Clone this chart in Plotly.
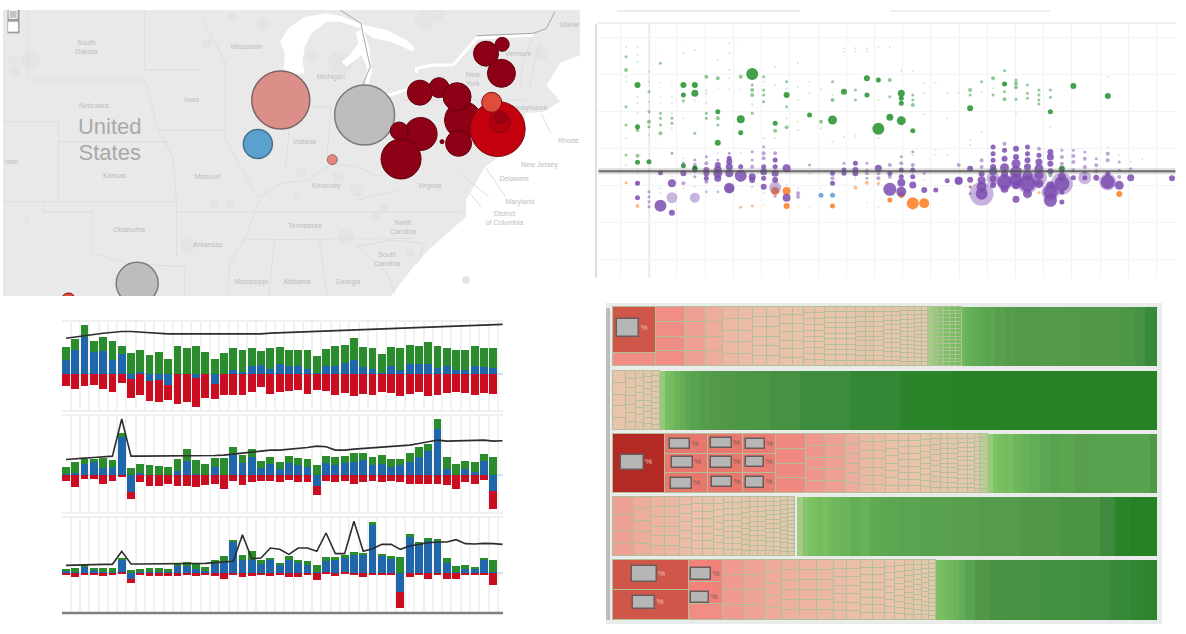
import plotly.graph_objects as go

W, H = 1186, 634

# ---- map panel, positions
land_x = [8, 1543, 1543, 1490, 1454, 1490, 1445, 1397, 1397, 1348, 1290, 1240, 1240, 1190, 1140, 1100, 1040, 8]
land_y = [30, 30, 165, 190, 255, 305, 335, 340, 415, 455, 500, 600, 650, 700, 750, 800, 888, 888]
lake_arc_x = [745, 767, 811, 869, 913, 967, 1029, 1082, 1104, 1095, 1073, 1038, 993, 958, 905, 869, 829, 811, 805, 811, 771, 754, 758]
lake_arc_y = [125, 85, 50, 40, 50, 75, 90, 120, 145, 155, 140, 125, 115, 85, 65, 65, 100, 140, 185, 220, 225, 205, 160]
huron_x = [947, 967, 983, 989, 980, 971, 977, 962, 922, 909, 931, 953]
huron_y = [95, 87, 145, 215, 255, 250, 205, 165, 200, 185, 165, 130]
erie_x = [985, 1038, 1090, 1090, 1038, 995]
erie_y = [275, 280, 260, 270, 290, 290]
lawrence_x = [1108, 1108, 1153, 1206, 1268, 1419]
lawrence_y = [220, 205, 195, 195, 115, 105]
border_dark_x = [905, 960, 975, 985, 965, None, 1268, 1419, 1454, 1476]
border_dark_y = [30, 70, 150, 200, 255, None, 107, 100, 85, 35]
box_x = [20, 52, 52, 20]
box_y = [30, 30, 100, 100]
state_lines = [
    ([75, 75], [30, 240]), ([385, 385], [30, 210]), ([75, 385, 400, 420, 460, 470, 470], [240, 240, 300, 390, 470, 610, 770]),
    ([385, 540], [210, 210]), ([540, 600, 600, 600, 640, 690, 650, 610, 605], [60, 190, 300, 415, 500, 600, 720, 790, 888]),
    ([420, 600], [390, 390]), ([8, 155, 155], [365, 365, 605]), ([155, 450], [425, 425]), ([8, 470], [605, 605]),
    ([115, 115, 245, 245, 345, 490, 490], [605, 635, 635, 760, 790, 800, 888]), ([470, 1230], [635, 635]),
    ([640, 1100], [720, 715]), ([730, 715], [720, 888]), ([850, 870], [720, 888]), ([770, 760], [385, 500]),
    ([880, 870], [320, 470]), ([680, 880], [320, 320]), ([690, 750, 820, 885, 950, 1010], [590, 550, 540, 490, 500, 530]),
    ([950, 1060], [600, 570]), ([950, 1040, 1130, 1110], [740, 720, 730, 790]), ([950, 1030, 1050], [740, 820, 880]),
    ([1070, 1400], [300, 300]), ([1383, 1393, 1419], [255, 175, 115]), ([1440, 1420, 1410], [125, 200, 255]),
    ([1290, 1345], [500, 590]), ([1225, 1300], [520, 590]), ([1440, 1465], [340, 400]), ([1250, 1280], [580, 620]),
]
patch_x = [80, 35, 40, 700, 620, 905, 1130, 900, 800, 950, 570, 610, 500, 1000, 920, 1020, 550, 830, 1440, 1160, 1240, 70, 660, 1090, 790]
patch_y = [180, 180, 215, 70, 50, 190, 60, 530, 520, 570, 610, 612, 735, 650, 710, 625, 130, 170, 160, 40, 840, 660, 430, 760, 590]
patch_d = [20, 10, 12, 14, 10, 24, 20, 12, 10, 14, 8, 9, 16, 10, 16, 10, 10, 12, 14, 16, 8, 7, 8, 9, 8]
label_text = ["South<br>Dakota", "Wisconsin", "Michigan", "Iowa", "Nebraska", "Indiana", "Kansas", "Missouri", "Kentucky", "Virginia",
              "Oklahoma", "Arkansas", "Tennessee", "North<br>Carolina", "South<br>Carolina", "Mississippi", "Alabama", "Georgia",
              "New<br>York", "New Jersey", "Delaware", "Maryland", "District<br>of Columbia", "Vermont", "Rhode", "Maine", "rado", "Pennsylvania"]
label_x = [230, 655, 880, 510, 250, 810, 305, 552, 868, 1143, 343, 553, 812, 1072, 1030, 668, 790, 926, 1258, 1435, 1368, 1383, 1342, 1378, 1512, 1515, 30, 1400]
label_y = [142, 142, 232, 302, 318, 426, 530, 531, 558, 560, 691, 735, 678, 682, 778, 847, 847, 847, 238, 497, 539, 608, 657, 163, 425, 75, 487, 325]

grey_lon = [970, 365]
grey_lat = [345, 850]
grey_d = [60, 42]
dark_lon = [1293, 1336, 1334, 1168, 1117, 1232, 1216, 1220, 1119, 1062, 1067, 1176]
dark_lat = [161, 133, 220, 263, 278, 360, 290, 430, 402, 393, 477, 425]
dark_d = [25, 14, 28, 20, 25, 37, 28, 26, 33, 18, 40, 4]
red_lon = [1324, 1330, 1332, 1308, 182]
red_lat = [387, 367, 352, 307, 900]
red_d = [55, 20, 12, 20, 14]
red_fill = ["#c4000f", "#b3000f", "#9c0012", "#e04b3c", "#e04b3c"]

# ---- dot panel: (column, value, size)
green_dots = [
    (0,374,2),(0,344,3),(0,304,4),(0,284,2),(0,269,2),(0,194,3),(0,139,3),(0,99,2),(0,49,3),
    (1,374,2),(1,349,2),(1,329,2),(1,259,6),(1,224,2),(1,204,2),(1,174,2),(1,134,5),(1,124,4),(1,47,4),(1,27,5),
    (2,299,2),(2,269,2),(2,239,3),(2,209,2),(2,179,3),(2,149,4),(2,134,3),(2,109,2),(2,29,5),
    (3,364,1),(3,324,3),(3,174,3),(3,159,3),(3,139,3),(3,114,4),(3,84,1),
    (4,174,2),(4,159,3),(4,144,3),(4,129,2),(4,54,3),
    (5,384,1),(5,354,2),(5,259,6),(5,229,5),(5,212,3),(5,159,2),(5,17,5),
    (6,364,2),(6,259,6),(6,234,7),(6,114,3),(6,9,5),
    (7,284,4),(7,244,2),(7,234,2),(7,174,3),(7,159,3),
    (8,334,2),(8,279,4),(8,179,5),(8,159,4),(8,139,3),(8,86,6),
    (9,384,2),(9,354,2),(9,304,2),(9,279,2),(9,134,1),
    (10,384,1),(10,284,4),(10,156,8),(10,116,5),
    (11,292,12),(11,259,3),(11,244,4),(11,229,4),(11,199,2),(11,174,3),
    (12,284,3),(12,269,2),(12,244,3),(12,229,3),(12,209,3),(12,99,2),
    (13,314,2),(13,259,2),(13,144,5),(13,122,4),(13,99,2),
    (14,269,3),(14,249,2),(14,229,6),(14,194,3),(14,159,2),(14,132,4),
    (15,324,2),(15,254,2),(15,214,2),(15,149,2),(15,124,2),
    (16,269,2),(16,234,2),(16,169,5),
    (17,246,2),(17,149,4),(17,129,2),
    (18,269,3),(18,229,2),(18,214,4),(18,154,9),(18,89,2),
    (19,369,2),(19,359,2),(19,239,6),(19,104,2),
    (20,369,2),(20,359,2),(20,244,3),(20,214,3),(20,106,2),
    (21,369,2),(21,359,2),(21,279,6),(21,229,5),
    (22,374,2),(22,274,5),(22,214,2),(22,128,12),(22,100,2),
    (23,374,2),(23,274,4),(23,224,3),(23,162,7),
    (24,302,2),(24,234,7),(24,219,5),(24,204,5),(24,152,9),
    (25,302,2),(25,229,3),(25,214,3),(25,199,4),(25,122,5),(25,59,3),
    (26,264,2),(26,234,2),(26,172,2),
    (27,266,2),(28,234,2),(28,159,2),(29,236,2),
    (30,244,4),(30,229,3),(30,189,6),(30,94,2),(30,79,2),
    (31,269,3),(31,239,2),(31,119,2),
    (32,279,4),(32,249,2),(32,229,3),
    (33,302,3),(33,262,5),(33,239,3),(33,216,4),
    (34,274,3),(34,264,4),(34,252,4),(34,216,3),(34,172,2),
    (35,259,3),(35,234,3),(35,219,3),
    (36,244,3),(36,229,3),(36,214,3),(36,202,3),
    (37,244,3),(37,222,3),(37,179,5),(37,134,2),
    (39,256,6),(39,204,1),(39,164,1),
    (42,284,2),(42,226,6),(44,216,1),
]
purple_dots = [
    (0,19,2),(1,-6,2),(1,-36,5),(1,-79,5),
    (2,-61,3),(2,-76,3),(2,-91,3),(2,-106,3),
    (3,-4,5),(3,-51,2),(3,-66,2),(3,-103,12),
    (4,-36,8),(4,-124,6),(4,-14,2),
    (5,39,2),(5,24,3),(5,-6,6),(5,-36,4),(5,-51,2),
    (6,34,3),(6,19,4),(6,4,5),(6,-16,3),(6,-46,2),
    (7,44,3),(7,24,4),(7,4,6),(7,-6,6),(7,-21,5),(7,-31,4),
    (8,19,6),(8,4,8),(8,-6,9),(8,-21,7),(8,54,2),(8,34,3),
    (9,39,5),(9,29,6),(9,14,7),(9,-6,8),(9,-51,10),(9,54,3),
    (10,14,5),(10,-13,12),(10,54,2),(10,-30,2),
    (11,34,3),(11,14,4),(11,-16,7),(11,-26,6),(11,-48,2),(11,59,3),
    (12,74,3),(12,54,4),(12,39,4),(12,14,5),(12,-1,7),(12,-21,5),(12,-46,6),(12,-66,2),
    (13,54,4),(13,34,5),(13,14,5),(13,-6,7),(13,-26,6),(13,-75,3),
    (14,9,8),(14,-79,8),(14,-40,2),
    (15,-66,4),(15,-76,4),(15,-50,2),
    (16,19,3),(16,-6,2),
    (17,10,1),(18,-6,5),(18,-21,4),(18,-36,5),
    (19,24,3),(19,4,5),(19,-6,5),(19,-40,1),
    (20,24,5),(20,4,6),(20,-6,6),(20,-21,2),
    (21,24,3),(21,4,3),(21,-6,4),(21,-21,3),
    (22,9,7),(22,-6,4),(22,-21,4),(22,-40,2),
    (23,19,4),(23,-6,5),(23,-16,4),(23,-54,13),
    (24,44,3),(24,24,4),(24,4,5),(24,-16,5),(24,-34,8),(24,-61,10),
    (25,49,2),(25,19,4),(25,4,5),(25,-16,5),(25,-41,7),
    (26,-6,3),(26,-26,2),(26,-56,6),
    (27,64,2),(27,-56,5),(27,50,2),(28,49,2),(28,-28,5),
    (29,19,4),(29,-28,8),
    (30,8,6),(30,-25,6),(30,-47,3),(30,-67,3),
    (31,33,4),(31,13,4),(31,-7,6),(31,-27,8),(31,-47,10),(31,-67,12),
    (32,73,5),(32,53,5),(32,33,5),(32,13,6),(32,0,8),(32,-22,7),(32,-42,6),
    (33,83,4),(33,63,5),(33,38,6),(33,11,9),(33,-7,7),(33,-32,14),(33,-52,8),
    (34,68,6),(34,43,6),(34,23,9),(34,-2,12),(34,-27,12),(34,-42,8),(34,-84,7),
    (35,73,5),(35,53,5),(35,33,6),(35,13,7),(35,-12,10),(35,-37,16),(35,-67,9),
    (36,68,4),(36,48,5),(36,28,7),(36,8,9),(36,-12,9),(36,-37,9),
    (37,58,6),(37,43,7),(37,23,6),(37,0,6),(37,-42,8),(37,-62,14),(37,-87,13),
    (38,63,3),(38,43,4),(38,23,4),(38,0,5),(38,-17,8),(38,-37,15),(38,-62,5),(38,-92,5),
    (39,63,3),(39,46,4),(39,28,4),(39,3,4),(39,-19,5),
    (40,58,3),(40,38,4),(40,13,4),(40,-2,4),(40,-19,5),
    (41,38,3),(41,18,4),(41,0,4),(41,-19,6),
    (42,73,2),(42,53,4),(42,33,4),(42,-7,5),(42,-32,14),
    (43,48,2),(43,28,3),(43,3,3),(43,-17,4),(43,-42,9),
    (44,28,2),(44,8,3),(44,-19,7),
    (45,38,2),(47.6,-21,6),
]
purple_pale = [
    (4,-79,11),(6,-79,10),(13,-49,12),(9,-50,11),(29,-28,8),(31,-67,24),(34,-27,16),(33,-32,16),(35,-37,20),(37,-62,18),
    (38,-37,22),(40,-19,13),(42,-32,17),(36,-20,16),(32,-22,13),
]
orange_dots = [
    (0,-34,3),(1,-36,4),(1,-104,4),(2,-106,2),(10,-108,3),(11,-104,3),(12,-101,2),(13,-59,8),(14,-59,8),(14,-104,6),(15,-106,2),(16,-106,2),
    (17,-51,2),(18,-104,5),(20,-49,4),(21,-34,4),(21,-94,2),(22,-36,3),(22,-108,2),(23,-86,5),(24,-71,6),(25,-96,12),(25,-114,2),(26,-96,10),
    (30,-46,3),(31,-76,2),(33,-56,3),(34,-34,3),(35,-16,3),(36,-36,3),(36,-64,3),(37,-36,3),(43,-68,6),(32,-36,3),
]
blue_dots = [
    (3,266,2),(4,266,2),(3,224,2),(4,224,2),(3,206,2),(4,206,2),(5,204,2),(6,212,2),(7,204,2),(8,249,2),(9,246,2),(10,246,2),(11,204,2),
    (7,-61,3),(8,-61,3),(17,-72,5),(18,-72,5),(11,-46,2),
]
# dark green dots sit over the purple at the reference line
green_over = [(38,8,6),(37,-12,4),(32,8,3),(6,9,5)]

# ---- three bar panels, values in picture units from the zero line
bar_blue_a = [43, 73, 110, 67, 70, 43, 59, -12, 8, -20, -15, -30, 2, 0, -10, 0, -27, 0, 12, 8, 25, 27, 15, 30, 25, 25, 15, 5, 25, 25, 35, 42, 22, 15, 5, 25, 12, 30, 30, 30, 18, 25, 12, 12, 25, 22, 18]
bar_green_a = [39, 32, 35, 31, 40, 55, 25, 62, 64, 58, 65, 45, 82, 77, 84, 67, 47, 64, 65, 64, 53, 41, 62, 50, 48, 48, 58, 50, 50, 58, 53, 66, 60, 63, 55, 57, 66, 58, 53, 66, 65, 53, 61, 61, 58, 56, 60]
bar_red_a = [-35, -42, -35, -30, -42, -53, -25, -58, -60, -58, -65, -45, -88, -80, -85, -70, -45, -60, -60, -60, -52, -38, -58, -53, -48, -45, -57, -45, -48, -60, -55, -65, -58, -60, -52, -55, -65, -58, -52, -65, -62, -55, -52, -55, -60, -55, -58]
line_a = [107, 110, 115, 118, 122, 125, 127, 127, 125, 124, 122, 120, 120, 120, 120, 119, 118, 118, 118, 119, 120, 120, 122, 123,
          125, 127, 128, 129, 130, 131, 132, 133, 134, 134, 135, 135, 136, 137, 138, 139, 140, 141, 142, 143, 144, 146, 147, 148]

bar_blue_b = [3, 5, 33, 38, 20, 23, 113, -52, 6, 0, 0, 0, 10, 41, 3, 0, 23, 0, 60, 35, 53, 20, 33, 16, 35, 28, 23, -35, 35, 30, 35, 38, 43, 28, 33, 23, 28, 38, 53, 70, 136, 18, 0, 16, 8, 41, -50]
bar_green_b = [20, 33, 13, 8, 28, 20, 10, 21, 27, 28, 26, 23, 36, 35, 40, 33, 27, 50, 21, 23, 22, 20, 20, 22, 20, 22, 23, 28, 20, 23, 21, 27, 20, 25, 25, 23, 18, 27, 28, 21, 29, 33, 33, 24, 30, 20, 53]
bar_red_b = [-19, -37, -12, -12, -27, -19, -7, -22, -22, -35, -34, -27, -34, -34, -37, -32, -27, -44, -20, -30, -22, -20, -19, -22, -17, -22, -22, -27, -19, -22, -19, -27, -22, -19, -22, -19, -22, -27, -29, -29, -27, -32, -44, -22, -27, -17, -52]
line_b = [45, 46, 49, 51, 53, 55, 166, 55, 55, 55, 55, 55, 56, 57, 57, 57, 57, 58, 61, 63, 65, 68, 73, 73,
          75, 78, 81, 85, 83, 73, 73, 76, 78, 80, 82, 84, 86, 88, 93, 98, 103, 100, 100, 100, 102, 103, 100, 101]

bar_blue_c = [4, 2, 17, 9, 2, 2, 39, -20, 2, 2, 2, 2, 20, 20, 10, 4, 27, 32, 92, 39, 37, 27, 39, 22, 37, 30, 24, 2, 34, 37, 45, 54, 54, 144, 50, 40, -58, 107, 82, 94, 92, 30, 2, 12, 12, 37, 2]
bar_green_c = [6, 13, 5, 6, 13, 13, 3, 9, 10, 13, 13, 10, 9, 12, 15, 13, 10, 17, 5, 13, 28, 10, 6, 8, 13, 9, 10, 20, 13, 10, 7, 8, 6, 8, 7, 10, 47, 10, 10, 10, 8, 15, 19, 10, 5, 8, 35]
bar_red_c = [-8, -13, -6, -8, -11, -8, -4, -10, -6, -11, -11, -10, -10, -8, -10, -6, -10, -18, -6, -13, -10, -8, -10, -8, -13, -13, -6, -23, -3, -10, -3, -8, -13, -8, -8, -8, -48, -13, -8, -18, -8, -18, -18, -6, -6, -6, -36]
line_c = [22, 22, 23, 24, 25, 25, 64, 26, 26, 26, 26, 26, 27, 27, 28, 28, 30, 32, 34, 114, 42, 44, 74, 70,
          55, 74, 74, 64, 119, 57, 57, 154, 64, 72, 85, 85, 70, 80, 85, 90, 92, 92, 99, 87, 86, 88, 87, 85]

# ---- tile bands: (column width, rows, change)
band_a = [(43, [.78, .22], [-.78, -.5]), (29, 4, -.5), (20, 4, -.42), (18, 4, -.35), (16, 5, -.28), (14, 5, -.25), (14, 6, -.22), (13, 6, -.2), (13, 7, -.2), (11, 7, -.18),
          (11, 10, -.18), (10, 10, -.16), (11, 11, -.16), (11, 11, -.15), (9, 11, -.15), (10, 12, -.14), (8, 12, -.14), (10, 12, -.13), (8, 13, -.12), (9, 13, -.12),
          (7, 14, -.1), (7, 14, -.1), (7, 15, -.08), (6, 15, -.06), (5, 16, .03), (5, 16, .06), (6, 16, .08), (6, 16, .1), (6, 16, .12), (6, 16, .15)]
band_b = [(13, 5, -.16), (10, 7, -.14), (8, 8, -.12), (8, 10, -.1), (8, 11, -.05)]
band_c = [(52, 1, -1), (43, 3, -.66), (35, 3, -.66), (33, 3, -.64), (30, 4, -.55), (20, 5, -.46), (20, 5, -.42), (14, 6, -.34), (14, 7, -.28), (12, 7, -.25), (13, 8, -.22),
          (10, 9, -.2), (12, 9, -.18), (10, 10, -.16), (10, 11, -.14), (7, 12, -.13), (10, 12, -.12), (10, 13, -.1), (7, 13, -.08), (5, 14, -.05), (8, 14, .0)]
band_d = [(21, [.3, .28, .2, .22], -.42), (17, 5, -.34), (14, 6, -.3), (15, 6, -.27), (12, 7, -.25), (11, 8, -.22), (11, 8, -.2), (10, 9, -.18), (9, 10, -.16), (9, 10, -.15),
          (8, 11, -.14), (8, 12, -.13), (8, 12, -.12), (8, 13, -.1), (7, 13, -.09), (7, 14, -.07), (7, 15, -.03)]
band_e = [(76, 2, -.78), (34, [.37, .37, .26], [-.62, -.62, -.5]), (22, 4, -.45), (20, 4, -.4), (17, 5, -.36), (18, 6, -.32), (17, 6, -.3), (17, 6, -.28), (13, 7, -.25), (14, 7, -.23), (12, 8, -.2), (12, 8, -.2),
          (10, 9, -.18), (10, 10, -.16), (9, 11, -.14), (8, 12, -.12), (7, 13, -.1), (7, 14, -.06)]
ramp_a_x = [960, 965, 970, 975, 980, 985, 990, 995, 1000, 1005, 1010, 1015, 1025, 1040, 1060, 1080, 1100, 1120, 1135, 1145, 1157]
ramp_a = [.18, .22, .25, .28, .3, .34, .32, .38, .36, .42, .4, .45, .45, .44, .46, .48, .5, .55, .65, .8]
ramp_b_x = [660, 665, 670, 675, 680, 685, 690, 700, 710, 720, 735, 750, 770, 800, 850, 900, 950, 1000, 1157]
ramp_b = [.05, .12, .15, .2, .25, .3, .35, .4, .45, .5, .55, .58, .65, .75, .85, .95, .98, 1.0]
ramp_c_x = [988, 993, 998, 1003, 1008, 1013, 1018, 1023, 1030, 1040, 1050, 1060, 1075, 1090, 1110, 1130, 1150, 1157]
ramp_c = [.05, .1, .12, .15, .12, .18, .2, .22, .25, .3, .35, .33, .38, .36, .35, .35, .5]
ramp_d_x = [797, 803, 808, 813, 818, 823, 828, 833, 840, 850, 860, 870, 880, 890, 900, 920, 950, 980, 1020, 1060, 1100, 1115, 1130, 1157]
ramp_d = [.03, .08, .1, .12, .14, .12, .16, .18, .2, .25, .22, .28, .3, .32, .34, .36, .38, .42, .5, .6, .75, .95, 1.0]
ramp_e_x = [929, 934, 939, 944, 949, 954, 959, 965, 975, 990, 1010, 1040, 1080, 1110, 1130, 1145, 1157]
ramp_e = [.03, .1, .12, .15, .18, .2, .25, .35, .5, .62, .65, .68, .72, .8, .88, .95]
band_top = [307, 371, 434, 497, 560]
band_bottom = [366, 430, 493, 556, 620]
icon_x = [628, 632, 680, 682, 681, 721, 721, 722, 755, 755, 755, 644, 644, 701, 700]
icon_y = [328, 462, 444, 462, 483, 443, 462, 482, 444, 462, 482, 574, 602, 574, 597]
icon_w = [22, 23, 20, 21, 21, 21, 21, 20, 19, 18, 18, 25, 22, 20, 18]
icon_h = [18, 15, 10, 11, 11, 10, 11, 10, 10, 10, 11, 16, 13, 12, 11]
tile_scale = [[0, "#b32a24"], [.11, "#d0564a"], [.19, "#f0827a"], [.25, "#f08e85"], [.29, "#eea096"], [.35, "#edb4a2"],
              [.4, "#eac2ac"], [.485, "#e0c9ac"], [.51, "#a7cf87"], [.55, "#7bc263"], [.625, "#62ad55"], [.7, "#559c4c"],
              [.8, "#4a9444"], [.9, "#38893a"], [1, "#268224"]]


def xdom(a, b):
    return [a / W, b / W]


def ydom(top, bottom):
    return [1 - bottom / H, 1 - top / H]


fig = go.Figure()

# map
fig.add_trace(go.Scatter(x=land_x, y=land_y, fill="toself", fillcolor="#e9e9e9", mode="none"))
fig.add_trace(go.Scatter(x=patch_x, y=patch_y, mode="markers", marker=dict(size=patch_d, color="#e2e5e2", opacity=1, line_width=0)))
for sx, sy in state_lines:
    fig.add_trace(go.Scatter(x=sx, y=sy, mode="lines", line=dict(color="#dddddd", width=1)))
for lx, ly in [(lake_arc_x, lake_arc_y), (huron_x, huron_y), (erie_x, erie_y)]:
    fig.add_trace(go.Scatter(x=lx, y=ly, fill="toself", fillcolor="#ffffff", mode="none"))
fig.add_trace(go.Scatter(x=lawrence_x, y=lawrence_y, mode="lines", line=dict(color="#ffffff", width=3)))
fig.add_trace(go.Scatter(x=border_dark_x, y=border_dark_y, mode="lines", line=dict(color="#a8a8a8", width=1)))
fig.add_trace(go.Scatter(x=label_x, y=label_y, mode="text", text=label_text,
                         textfont=dict(family="Liberation Sans", size=7, color="#bdbdbd")))
fig.add_trace(go.Scatter(x=[292, 292], y=[384, 462], mode="text", text=["United", "States"],
                         textfont=dict(family="Liberation Sans", size=22, color="#a9a9a9")))
fig.add_trace(go.Scatter(x=grey_lon, y=grey_lat, mode="markers",
                         marker=dict(size=grey_d, color="#bdbdbd", line=dict(color="#7b7b7b", width=1.5), opacity=1)))
fig.add_trace(go.Scatter(x=[747], y=[300], mode="markers", marker=dict(size=58, color="#dc8f88", opacity=1, line=dict(color="#7d6666", width=1.5))))
fig.add_trace(go.Scatter(x=[686], y=[432], mode="markers", marker=dict(size=29, color="#5aa1cf", opacity=1, line=dict(color="#456f8e", width=1.5))))
fig.add_trace(go.Scatter(x=[884], y=[479], mode="markers", marker=dict(size=10, color="#e8847a", opacity=1, line=dict(color="#8c6a6a", width=1))))
fig.add_trace(go.Scatter(x=dark_lon, y=dark_lat, mode="markers",
                         marker=dict(size=dark_d, color="#8e0016", opacity=1, line=dict(color="#5c000e", width=1))))
fig.add_trace(go.Scatter(x=red_lon, y=red_lat, mode="markers",
                         marker=dict(size=red_d, color=red_fill, opacity=1, line=dict(color="#7a0a10", width=1))))
fig.add_trace(go.Scatter(x=box_x, y=box_y, fill="toself", fillcolor="#9b9b9b", mode="none"))
fig.add_trace(go.Scatter(x=[35, 35], y=[43, 80], mode="markers", marker=dict(symbol="square", size=[8, 9], color=["#c4c4c4", "#ffffff"], opacity=1)))

# dots
def dot_trace(dots, color, pale=False):
    cols = [d[0] for d in dots]
    vals = [d[1] for d in dots]
    sizes = [d[2] for d in dots]
    if pale:
        alpha = [0.42 for s in sizes]
    else:
        alpha = [0.22 if s <= 2 else 0.5 if s <= 4 else 0.85 for s in sizes]
    return go.Scatter(x=cols, y=vals, mode="markers", xaxis="x2", yaxis="y2",
                      marker=dict(size=sizes, color=color, opacity=alpha, line_width=0))


fig.add_trace(dot_trace(blue_dots, "#5b9bd5"))
fig.add_trace(dot_trace(orange_dots, "#ff7a1c"))
fig.add_trace(dot_trace(purple_pale, "#7b4cb0", pale=True))
fig.add_trace(dot_trace(purple_dots, "#7b4cb0"))
fig.add_trace(dot_trace(green_dots, "#23912c"))
fig.add_trace(dot_trace(green_over, "#1d7a33"))
fig.add_trace(go.Scatter(x=[-2.4, 47.9], y=[0, 0], mode="lines", xaxis="x2", yaxis="y2", line=dict(color="rgba(120,120,120,0.25)", width=6)))
fig.add_trace(go.Scatter(x=[-2.4, 47.9], y=[0, 0], mode="lines", xaxis="x2", yaxis="y2", line=dict(color="rgba(80,80,80,0.8)", width=2)))

# bars
months = list(range(47))
steps = list(range(48))
panels = [(bar_blue_a, bar_green_a, bar_red_a, line_a, "x3", "y3"),
          (bar_blue_b, bar_green_b, bar_red_b, line_b, "x4", "y4"),
          (bar_blue_c, bar_green_c, bar_red_c, line_c, "x5", "y5")]
for blue, green, red, trend, xa, ya in panels:
    fig.add_trace(go.Bar(x=months, y=blue, xaxis=xa, yaxis=ya, marker=dict(color="#1f66ab", line_width=0), width=0.84))
    fig.add_trace(go.Bar(x=months, y=green, base=[max(v, 0) for v in blue], xaxis=xa, yaxis=ya,
                         marker=dict(color="#2a8c2c", line_width=0), width=0.84))
    fig.add_trace(go.Bar(x=months, y=red, base=[min(v, 0) for v in blue], xaxis=xa, yaxis=ya,
                         marker=dict(color="#cc0c20", line_width=0), width=0.84))
    fig.add_trace(go.Scatter(x=steps, y=trend, mode="lines", xaxis=xa, yaxis=ya, line=dict(color="#2d2d2d", width=1.6)))

# tiles
cell_x, cell_w, cell_y, cell_h, cell_v = [], [], [], [], []
for band, top, bottom in zip([band_a, band_b, band_c, band_d, band_e], band_top, band_bottom):
    left = 613
    for width, rows, change in band:
        shares = rows if isinstance(rows, list) else [1 / rows] * rows
        changes = change if isinstance(change, list) else [change] * len(shares)
        y = top
        for share, v in zip(shares, changes):
            cell_x.append(left + width / 2)
            cell_w.append(width)
            cell_y.append(y)
            cell_h.append(share * (bottom - top))
            cell_v.append(v)
            y += share * (bottom - top)
        left += width

ramps = [(ramp_a_x, ramp_a), (ramp_b_x, ramp_b), (ramp_c_x, ramp_c), (ramp_d_x, ramp_d), (ramp_e_x, ramp_e)]
for (rx, rz), top, bottom in zip(ramps, band_top, band_bottom):
    fig.add_trace(go.Heatmap(x=rx, y=[top, bottom], z=[rz], coloraxis="coloraxis", xaxis="x6", yaxis="y6"))
fig.add_trace(go.Bar(x=cell_x, y=cell_h, base=cell_y, width=cell_w, xaxis="x6", yaxis="y6",
                     marker=dict(color=cell_v, coloraxis="coloraxis", line=dict(color="#b2bf98", width=1))))
fig.add_trace(go.Bar(x=icon_x, y=icon_h, base=[c - h / 2 for c, h in zip(icon_y, icon_h)], width=icon_w, xaxis="x6", yaxis="y6",
                     marker=dict(color="#b6b6b6", line=dict(color="#6a5a5a", width=1.5))))
pct_x = [c + w / 2 + 5 for c, w in zip(icon_x, icon_w)]
pct_color = ["#f0c0b8" if h >= 13 else "#7f5a5a" for h in icon_h]
fig.add_trace(go.Scatter(x=pct_x, y=icon_y, mode="text", text=["%"] * len(icon_x), xaxis="x6", yaxis="y6",
                         textfont=dict(family="Liberation Sans", size=8, color=pct_color)))

hidden = dict(showticklabels=False, ticks="", zeroline=False, showgrid=False, fixedrange=True)
bar_x = dict(showticklabels=False, ticks="", zeroline=False, showgrid=True, gridcolor="#f1f1f1", gridwidth=2,
             tick0=-0.5, dtick=1, range=[-0.43, 47.05], showline=True, mirror=True, linecolor="#f0f0f0", linewidth=2)
bar_y = dict(showticklabels=False, ticks="", showgrid=False, zeroline=True, zerolinecolor="#cfe1f0", zerolinewidth=2)

fig.update_layout(
    width=W, height=H, margin=dict(l=0, r=0, t=0, b=0), paper_bgcolor="white", plot_bgcolor="white",
    showlegend=False, barmode="overlay", bargap=0, hovermode=False,
    coloraxis=dict(colorscale=tile_scale, cmin=-1, cmax=1, showscale=False),
    xaxis=dict(hidden, domain=xdom(3, 580), range=[8, 1543]),
    yaxis=dict(hidden, domain=ydom(10, 296), range=[888, 30]),
    xaxis2=dict(hidden, domain=xdom(596, 1176), range=[-2.62, 47.95], showgrid=True, gridcolor="#f2f2f2", gridwidth=1, tick0=-0.48, dtick=2.46),
    yaxis2=dict(hidden, domain=ydom(22, 278), range=[-320, 448], showgrid=True, gridcolor="#f4f4f4", tick0=69, dtick=111),
    xaxis3=dict(bar_x, domain=xdom(62, 503), anchor="y3"),
    yaxis3=dict(bar_y, domain=ydom(322, 410), range=[-105, 155], anchor="x3"),
    xaxis4=dict(bar_x, domain=xdom(62, 503), anchor="y4"),
    yaxis4=dict(bar_y, domain=ydom(416, 512), range=[-112, 175], anchor="x4"),
    xaxis5=dict(bar_x, domain=xdom(62, 503), anchor="y5"),
    yaxis5=dict(bar_y, domain=ydom(518, 612), range=[-118, 164], anchor="x5"),
    xaxis6=dict(hidden, domain=xdom(600, 1170), range=[600, 1170], anchor="y6"),
    yaxis6=dict(hidden, domain=ydom(300, 628), range=[628, 300], anchor="x6"),
    shapes=[
        dict(type="rect", xref="x6", yref="y6", x0=606, x1=1162, y0=303, y1=624, fillcolor="#e9ecea", line_width=0, layer="below"),
        dict(type="rect", xref="x6", yref="y6", x0=606, x1=610, y0=308, y1=620, fillcolor="#bcbcbc", line_width=0, layer="below"),
        dict(type="line", xref="x2", yref="paper", x0=2, x1=2, y0=1 - 278 / H, y1=1 - 22 / H, line=dict(color="#e6e6e6", width=2), layer="below"),
        dict(type="line", xref="paper", yref="paper", x0=596 / W, x1=596 / W, y0=1 - 278 / H, y1=1 - 24 / H, line=dict(color="#bdbdbd", width=1)),
        dict(type="line", xref="paper", yref="paper", x0=597 / W, x1=1176 / W, y0=1 - 23 / H, y1=1 - 23 / H, line=dict(color="#eeeeee", width=2)),
        dict(type="line", xref="paper", yref="paper", x0=617 / W, x1=800 / W, y0=1 - 11 / H, y1=1 - 11 / H, line=dict(color="#d8d8d8", width=1)),
        dict(type="line", xref="paper", yref="paper", x0=890 / W, x1=1050 / W, y0=1 - 11 / H, y1=1 - 11 / H, line=dict(color="#dddddd", width=1)),
        dict(type="line", xref="paper", yref="paper", x0=62 / W, x1=503 / W, y0=1 - 613 / H, y1=1 - 613 / H, line=dict(color="#7f7f7f", width=2.5)),
    ],
)

fig.write_html("out.html", post_script="document.body.style.margin='0';", config=dict(displayModeBar=False))
